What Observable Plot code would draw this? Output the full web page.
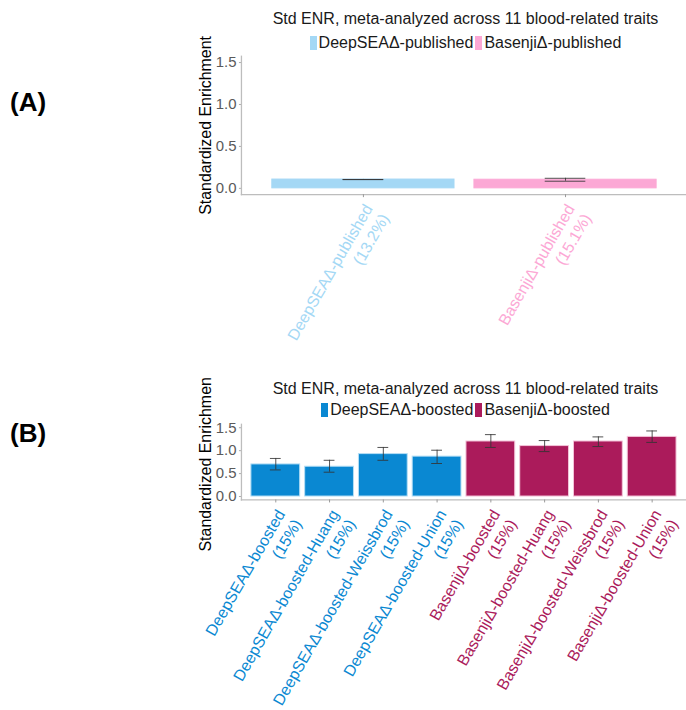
<!DOCTYPE html>
<html>
<head>
<meta charset="utf-8">
<script src="https://cdn.jsdelivr.net/npm/d3@7"></script>
<script src="https://cdn.jsdelivr.net/npm/@observablehq/plot@0.6"></script>
<style>
  html, body { margin: 0; padding: 0; background: #fff; overflow: hidden; }
  #wrap { position: relative; width: 686px; height: 710px; overflow: hidden; font-family: "Liberation Sans", Arial, sans-serif; }
  .abs { position: absolute; white-space: nowrap; }
  .letter { font-weight: bold; font-size: 26px; line-height: 30px; color: #000; left: 10px; }
  .title { font-size: 16px; line-height: 18px; color: #1a1a1a; left: 242px; width: 447px; text-align: center; }
  .legend { font-size: 16px; line-height: 18px; color: #1a1a1a; left: 242px; width: 447px; display: flex; justify-content: center; align-items: center; }
  .sw { display: inline-block; width: 7px; height: 14px; margin-right: 2px; }
  .item { display: flex; align-items: center; margin: 0 1px; }
</style>
</head>
<body>
<div id="wrap"></div>
<script>
// ---------- data ----------
const titleText = "Std ENR, meta-analyzed across 11 blood-related traits";
const yLabel = "Standardized Enrichment";
const yTicks = [0, 0.5, 1.0, 1.5];

// Panel A
const namesA = ["DeepSEAΔ-published", "BasenjiΔ-published"];
const pctA = ["13.2%", "15.1%"];
const groupsA = ["DeepSEAΔ-published", "BasenjiΔ-published"];
const valuesA = [0.105, 0.103];
const lowA = [0.104, 0.085];
const highA = [0.106, 0.120];

// Panel B
const namesB = ["DeepSEAΔ-boosted", "DeepSEAΔ-boosted-Huang", "DeepSEAΔ-boosted-Weissbrod", "DeepSEAΔ-boosted-Union",
                "BasenjiΔ-boosted", "BasenjiΔ-boosted-Huang", "BasenjiΔ-boosted-Weissbrod", "BasenjiΔ-boosted-Union"];
const pctB = ["15%", "15%", "15%", "15%", "15%", "15%", "15%", "15%"];
const groupsB = ["DeepSEAΔ-boosted", "DeepSEAΔ-boosted", "DeepSEAΔ-boosted", "DeepSEAΔ-boosted",
                 "BasenjiΔ-boosted", "BasenjiΔ-boosted", "BasenjiΔ-boosted", "BasenjiΔ-boosted"];
const valuesB = [0.70, 0.65, 0.925, 0.87, 1.20, 1.10, 1.20, 1.30];
const lowB = [0.58, 0.53, 0.79, 0.72, 1.07, 0.98, 1.09, 1.18];
const highB = [0.83, 0.79, 1.07, 1.01, 1.35, 1.22, 1.30, 1.43];

const legendA = ["DeepSEAΔ-published", "BasenjiΔ-published"];
const legendB = ["DeepSEAΔ-boosted", "BasenjiΔ-boosted"];

// ---------- styles ----------
const FILL = {
  "DeepSEAΔ-published": "#a4d8f5",
  "BasenjiΔ-published": "#fca8d5",
  "DeepSEAΔ-boosted": "#0a88d2",
  "BasenjiΔ-boosted": "#ab1b5b"
};
const OUTLINE = {
  "DeepSEAΔ-published": "#a4d8f5",
  "BasenjiΔ-published": "#fca8d5",
  "DeepSEAΔ-boosted": "#b5def5",
  "BasenjiΔ-boosted": "#f3c3d8"
};
const FONT = "'Liberation Sans', Arial, sans-serif";

function panel(names, pct, groups, values, low, high, height, marginTop, marginBottom) {
  const data = names.map((n, i) => ({
    name: n, label: n + "\n(" + pct[i] + ")", value: values[i], lo: low[i], hi: high[i],
    fill: FILL[groups[i]], stroke: OUTLINE[groups[i]]
  }));
  const W = 689, ML = 242, MR = 0;
  const step = (W - ML - MR) / (names.length + 0.2);
  const capInset = 0.35 * step;
  return Plot.plot({
    width: W, height, marginTop, marginBottom, marginLeft: ML, marginRight: MR,
    style: { fontFamily: FONT, fontSize: "16px", background: "transparent", overflow: "hidden" },
    x: { domain: names, paddingInner: 0.1, paddingOuter: 0.15 },
    y: { domain: [-0.075, 1.575] },
    color: { type: "identity" },
    marks: [
      Plot.barY(data, { x: "name", y: "value", fill: "fill", stroke: "stroke", strokeWidth: 1 }),
      Plot.ruleX(data, { x: "name", y1: "lo", y2: "hi", stroke: "#333", strokeOpacity: 0.85, strokeWidth: 1 }),
      Plot.tickY(data, { x: "name", y: "lo", insetLeft: capInset, insetRight: capInset, stroke: "#333", strokeOpacity: 0.85 }),
      Plot.tickY(data, { x: "name", y: "hi", insetLeft: capInset, insetRight: capInset, stroke: "#333", strokeOpacity: 0.85 }),
      Plot.frame({ anchor: "left", stroke: "#bdbdbd", strokeWidth: 1.3 }),
      Plot.frame({ anchor: "bottom", stroke: "#bdbdbd", strokeWidth: 1.3 }),
      Plot.axisY({ ticks: yTicks, tickFormat: d => d.toFixed(1), tickSize: 2, tickPadding: 3,
                   fontSize: 15, fill: "#5a5a5a", stroke: "#aaa", label: null }),
      Plot.axisX({ tickSize: 3, tickFormat: () => "", stroke: "#999", label: null }),
      Plot.text(data, { x: "name", frameAnchor: "bottom", text: "label", rotate: -60,
                        textAnchor: "end", lineAnchor: "top", lineHeight: 1.2,
                        dx: -2, dy: 7, fill: "fill", fontSize: 16 }),
      Plot.text([yLabel], { text: d => d, frameAnchor: "left", textAnchor: "middle", lineAnchor: "middle",
                            rotate: -90, dx: -36, fontSize: 16, fill: "#000" })
    ]
  });
}

function legend(keys, top) {
  const div = document.createElement("div");
  div.className = "abs legend";
  div.style.top = top + "px";
  for (const k of keys) {
    const it = document.createElement("span");
    it.className = "item";
    const sw = document.createElement("span");
    sw.className = "sw";
    sw.style.background = FILL[k];
    const tx = document.createElement("span");
    tx.textContent = k;
    it.appendChild(sw); it.appendChild(tx);
    div.appendChild(it);
  }
  return div;
}

function addAbs(el, top) {
  el.style.position = "absolute";
  el.style.left = "0px";
  el.style.top = top + "px";
  wrap.appendChild(el);
}

function addText(cls, text, top) {
  const d = document.createElement("div");
  d.className = "abs " + cls;
  d.style.top = top + "px";
  d.textContent = text;
  wrap.appendChild(d);
}

const wrap = document.getElementById("wrap");

// Panel A
addAbs(panel(namesA, pctA, groupsA, valuesA, lowA, highA, 375, 56, 180), 0);
addText("title", titleText, 10);
const lA = legend(legendA, 34); wrap.appendChild(lA);
addText("letter", "(A)", 87);

// Panel B
addAbs(panel(namesB, pctB, groupsB, valuesB, lowB, highB, 333, 47, 210), 377);
addText("title", titleText, 380);
const lB = legend(legendB, 401); wrap.appendChild(lB);
addText("letter", "(B)", 418);
</script>
</body>
</html>
